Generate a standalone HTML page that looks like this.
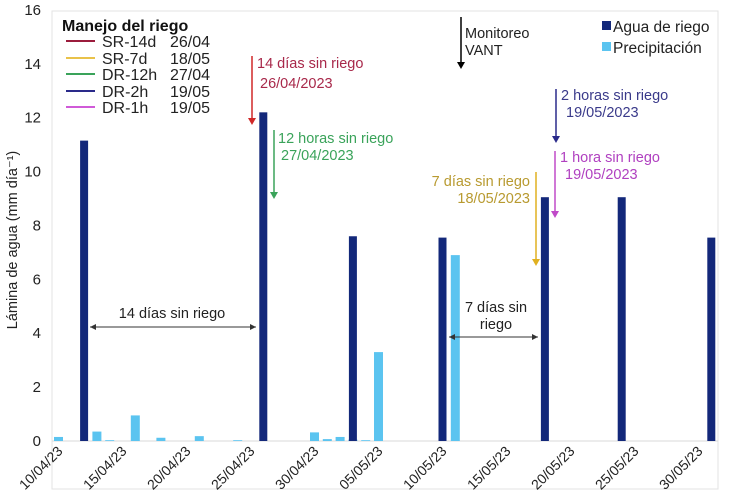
<!DOCTYPE html>
<html><head><meta charset="utf-8"><style>
body{margin:0;background:#fff;}
svg{display:block;font-family:"Liberation Sans",Arial,sans-serif;}
</style></head><body>
<svg id="chart" width="729" height="503" viewBox="0 0 729 503">
<rect x="52" y="11" width="666" height="478" fill="none" stroke="#e3e3e3"/>
<g id="axes"></g>
<g id="bars"></g>
<g id="ann" font-size="14.5">
 <text transform="translate(17,240) rotate(-90)" text-anchor="middle" font-size="14.5" fill="#222">Lámina de agua (mm día⁻¹)</text>
 <g font-size="16">
  <text x="62" y="31" font-weight="bold" font-size="16" fill="#111">Manejo del riego</text>
  <line x1="66" y1="41" x2="95" y2="41" stroke="#9b1c3c" stroke-width="2"/><text x="102" y="47" fill="#222">SR-14d</text><text x="170" y="47" fill="#222">26/04</text>
  <line x1="66" y1="58" x2="95" y2="58" stroke="#e9c24a" stroke-width="2"/><text x="102" y="64" fill="#222">SR-7d</text><text x="170" y="64" fill="#222">18/05</text>
  <line x1="66" y1="74" x2="95" y2="74" stroke="#3aa35a" stroke-width="2"/><text x="102" y="80" fill="#222">DR-12h</text><text x="170" y="80" fill="#222">27/04</text>
  <line x1="66" y1="91" x2="95" y2="91" stroke="#2a2a8a" stroke-width="2"/><text x="102" y="97" fill="#222">DR-2h</text><text x="170" y="97" fill="#222">19/05</text>
  <line x1="66" y1="107" x2="95" y2="107" stroke="#d05ad8" stroke-width="2"/><text x="102" y="113" fill="#222">DR-1h</text><text x="170" y="113" fill="#222">19/05</text>
 </g>
 <g font-size="15.5">
  <rect x="602" y="21" width="9" height="9" fill="#13287a"/><text x="613" y="32" fill="#222">Agua de riego</text>
  <rect x="602" y="42" width="9" height="9" fill="#5bc4f0"/><text x="613" y="53" fill="#222">Precipitación</text>
 </g>
 <g>
  <line x1="461" y1="17" x2="461" y2="66" stroke="#000" stroke-width="1.5"/><path d="M457,62 L465,62 L461,69z" fill="#000"/>
  <text x="465" y="38" fill="#222">Monitoreo</text><text x="465" y="55" fill="#222">VANT</text>
 </g>
 <g>
  <line x1="252" y1="56" x2="252" y2="120" stroke="#d02828" stroke-width="1.5"/><path d="M248,118 L256,118 L252,125z" fill="#d02828"/>
  <text x="257" y="68" fill="#a8284a">14 días sin riego</text><text x="260" y="88" fill="#a8284a">26/04/2023</text>
 </g>
 <g>
  <line x1="274" y1="130" x2="274" y2="194" stroke="#3aa35a" stroke-width="1.5"/><path d="M270,192 L278,192 L274,199z" fill="#3aa35a"/>
  <text x="278" y="143" fill="#3aa35a">12 horas sin riego</text><text x="281" y="160" fill="#3aa35a">27/04/2023</text>
 </g>
 <g>
  <line x1="556" y1="89" x2="556" y2="137" stroke="#2a2a8a" stroke-width="1.5"/><path d="M552,136 L560,136 L556,143z" fill="#2a2a8a"/>
  <text x="561" y="100" fill="#3a3a8a">2 horas sin riego</text><text x="566" y="117" fill="#3a3a8a">19/05/2023</text>
 </g>
 <g>
  <line x1="555" y1="151" x2="555" y2="212" stroke="#c04ac8" stroke-width="1.5"/><path d="M551,211 L559,211 L555,218z" fill="#c04ac8"/>
  <text x="560" y="162" fill="#b040c0">1 hora sin riego</text><text x="565" y="179" fill="#b040c0">19/05/2023</text>
 </g>
 <g>
  <line x1="536" y1="172" x2="536" y2="260" stroke="#e0b020" stroke-width="1.5"/><path d="M532,259 L540,259 L536,266z" fill="#e0b020"/>
  <text x="530" y="186" text-anchor="end" fill="#b89a30">7 días sin riego</text><text x="530" y="203" text-anchor="end" fill="#b89a30">18/05/2023</text>
 </g>
 <g>
  <line x1="90" y1="327" x2="256" y2="327" stroke="#333" stroke-width="1"/>
  <path d="M90,327 l6,-3 v6z M256,327 l-6,-3 v6z" fill="#333"/>
  <text x="172" y="318" text-anchor="middle" fill="#222">14 días sin riego</text>
 </g>
 <g>
  <line x1="449" y1="337" x2="538" y2="337" stroke="#333" stroke-width="1"/>
  <path d="M449,337 l6,-3 v6z M538,337 l-6,-3 v6z" fill="#333"/>
  <text x="496" y="312" text-anchor="middle" fill="#222">7 días sin</text><text x="496" y="329" text-anchor="middle" fill="#222">riego</text>
 </g>
</g>
</svg>
<script>
const yTicks=[0,2,4,6,8,10,12,14,16];
const xTickDays=[0,5,10,15,20,25,30,35,40,45,50];
const xTickLabels=["10/04/23","15/04/23","20/04/23","25/04/23","30/04/23","05/05/23","10/05/23","15/05/23","20/05/23","25/05/23","30/05/23"];
const irrigDays=[2,16,23,30,38,44,51];
const irrigValues=[11.15,12.2,7.6,7.55,9.05,9.05,7.55];
const precipDays=[0,3,4,6,8,11,14,20,21,22,23,24,25,31];
const precipValues=[0.15,0.35,0.03,0.95,0.12,0.18,0.03,0.32,0.07,0.15,0.05,0.03,3.3,6.9];
const NS="http://www.w3.org/2000/svg";
function x(d){return 58.5+d*12.8;}
function y(v){return 441-v*26.94;}
const axes=document.getElementById('axes'),bars=document.getElementById('bars');
function mk(t,a,p){const e=document.createElementNS(NS,t);for(const k in a)e.setAttribute(k,a[k]);p.appendChild(e);return e;}
const base=mk('line',{x1:52,x2:718,y1:y(0),y2:y(0),stroke:'#d9d9d9'},axes);


yTicks.forEach(v=>{const t=mk('text',{x:41,y:y(v)+5,'text-anchor':'end','font-size':15,fill:'#222'},axes);t.textContent=v;

});
xTickDays.forEach((d,i)=>{const px=x(d)+5,py=452;const t=mk('text',{x:px,y:py,'text-anchor':'end','font-size':14,fill:'#222',transform:`rotate(-45 ${px} ${py})`},axes);t.textContent=xTickLabels[i];

});
precipDays.forEach((d,i)=>{const v=precipValues[i];const r=mk('rect',{x:x(d)-4.5,y:y(v),width:9,height:y(0)-y(v),fill:'#5bc4f0'},bars);

});
irrigDays.forEach((d,i)=>{const v=irrigValues[i];const r=mk('rect',{x:x(d)-4,y:y(v),width:8,height:y(0)-y(v),fill:'#13287a'},bars);

});
</script>
</body></html>
